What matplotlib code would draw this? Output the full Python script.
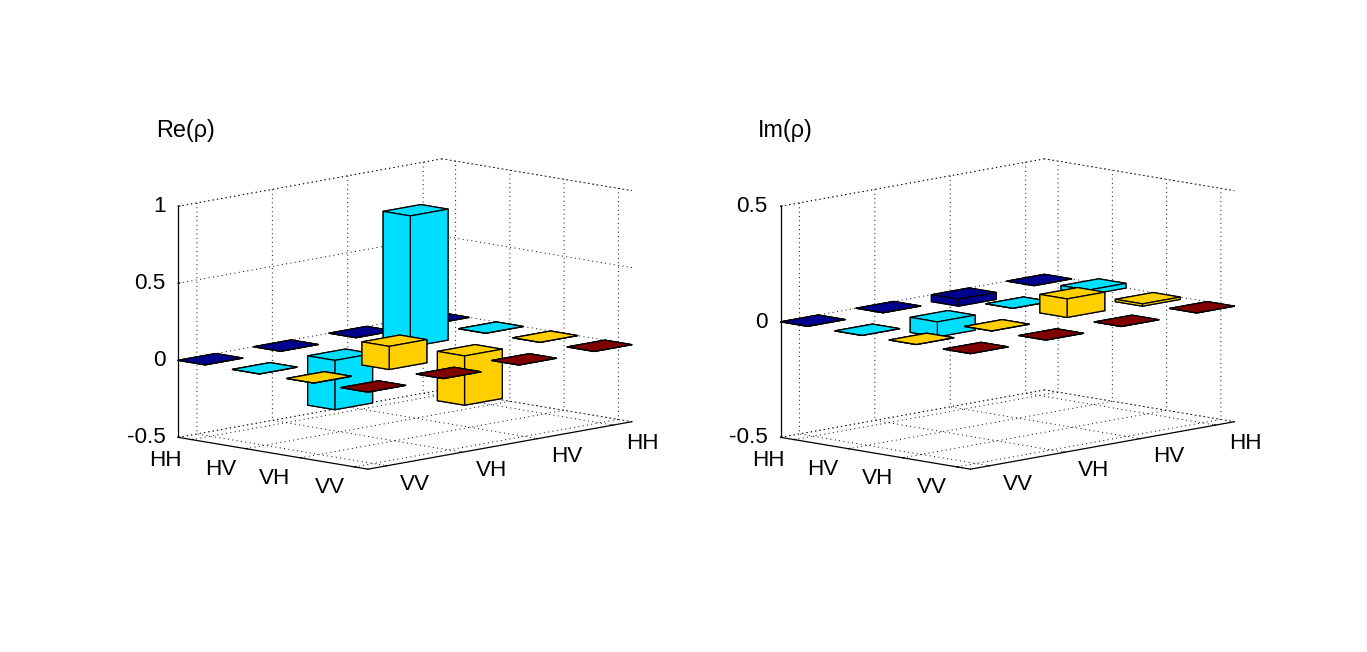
import numpy as np
import matplotlib
matplotlib.use("Agg")
import matplotlib.pyplot as plt

plt.rcParams['font.family'] = ['Liberation Sans', 'DejaVu Sans']
plt.rcParams['font.size'] = 16.2
plt.rcParams['grid.color'] = 'black'
plt.rcParams['grid.linestyle'] = (0, (1, 3.5))
plt.rcParams['grid.linewidth'] = 0.7

# rows run HH..VV along the left edge, columns VV..HH along the right edge
row_labels = ['HH', 'HV', 'VH', 'VV']
col_labels = ['VV', 'VH', 'HV', 'HH']
row_colors = ['#00008f', '#00deff', '#ffcf00', '#800000']

re_rho = [[0, 0, 0, 0],
          [0, -0.32, 0.85, 0],
          [0, 0.15, -0.32, 0],
          [0, 0, 0, 0]]
im_rho = [[0, 0, -0.03, 0],
          [0, -0.065, 0, 0.02],
          [0, 0, 0.08, -0.01],
          [0, 0, 0, 0]]

re_ticks = [-0.5, 0, 0.5, 1]
im_ticks = [-0.5, 0, 0.5]
re_ticklabels = ['-0.5', '0', '0.5', '1']
im_ticklabels = ['-0.5', '0', '0.5']

FIG_W = 1367
FIG_H = 652
BAR_W = 0.5
BOX_PX = (264.0, 380.0, 234.6)  # box edge lengths in pixels
AX_PX = 500.0


def draw_panel(fig, center_x, center_y, values, zlim, zticks, zticklabels):
    left = center_x - AX_PX * 0.095 / 0.185
    bottom = FIG_H - center_y - AX_PX * 0.095 / 0.185
    ax = fig.add_axes([left / FIG_W, bottom / FIG_H, AX_PX / FIG_W, AX_PX / FIG_H],
                      projection='3d', computed_zorder=False)
    ax.patch.set_alpha(0)
    ax.set_proj_type('ortho')
    ax.view_init(elev=10, azim=-46)
    zoom = np.linalg.norm(BOX_PX) / (1.8294640721620434 * 25 / 24) / (AX_PX * 0.1 / 0.185)
    # set_box_aspect scales its argument in place, so hand it a fresh array
    ax.set_box_aspect(np.array(BOX_PX), zoom=zoom)

    # painter's order: far bars first
    for i in range(4):
        for j in range(3, -1, -1):
            ax.bar3d(i + 1 - BAR_W / 2, j + 1 - BAR_W / 2, 0, BAR_W, BAR_W, values[i][j],
                     color=row_colors[i], edgecolor='black', linewidth=0.9, shade=False)

    lo, hi = 1 - BAR_W / 2, 4 + BAR_W / 2
    # dotted outline of the back walls
    dotted = dict(color='black', linestyle=(0, (1, 3.5)), linewidth=0.7, zorder=0)
    ax.plot([lo, lo], [lo, hi], [zlim[1], zlim[1]], **dotted)
    ax.plot([lo, hi], [hi, hi], [zlim[1], zlim[1]], **dotted)
    ax.plot([lo, lo], [lo, hi], [zlim[0], zlim[0]], **dotted)
    ax.plot([lo, hi], [hi, hi], [zlim[0], zlim[0]], **dotted)

    ax.set_xlim(lo, hi)
    ax.set_ylim(lo, hi)
    ax.set_zlim(*zlim)
    ax.set_xticks([1, 2, 3, 4])
    ax.set_xticklabels(row_labels, va='top', ha='right')
    ax.set_yticks([1, 2, 3, 4])
    ax.set_yticklabels(col_labels, va='center', ha='left')
    ax.set_zticks(zticks)
    ax.set_zticklabels(zticklabels, va='center', ha='right')
    ax.zaxis.set_ticks_position('lower')
    ax.tick_params(axis='x', pad=-1)
    ax.tick_params(axis='y', pad=5)
    ax.tick_params(axis='z', pad=-2.8)

    for axis in (ax.xaxis, ax.yaxis, ax.zaxis):
        axis.set_pane_color((1, 1, 1, 0))
        axis.pane.set_edgecolor('none')
        axis.line.set_color('black')
        axis.line.set_linewidth(0.9)
        axis._axinfo['tick']['inward_factor'] = 0
        axis._axinfo['tick']['outward_factor'] = 0.08
        axis._axinfo['tick']['linewidth'] = {True: 0.8, False: 0.5}
    return ax


fig = plt.figure(figsize=(FIG_W / 100, FIG_H / 100), dpi=100)
draw_panel(fig, 405, 314, re_rho, (-0.5, 1), re_ticks, re_ticklabels)
draw_panel(fig, 1007.5, 314, im_rho, (-0.5, 0.5), im_ticks, im_ticklabels)

fig.text(156 / FIG_W, 1 - 131 / FIG_H, 'Re(ρ)', ha='left', va='center', fontsize=16.8)
fig.text(758 / FIG_W, 1 - 131 / FIG_H, 'Im(ρ)', ha='left', va='center', fontsize=16.8)

fig.savefig('out.png', dpi=100)
